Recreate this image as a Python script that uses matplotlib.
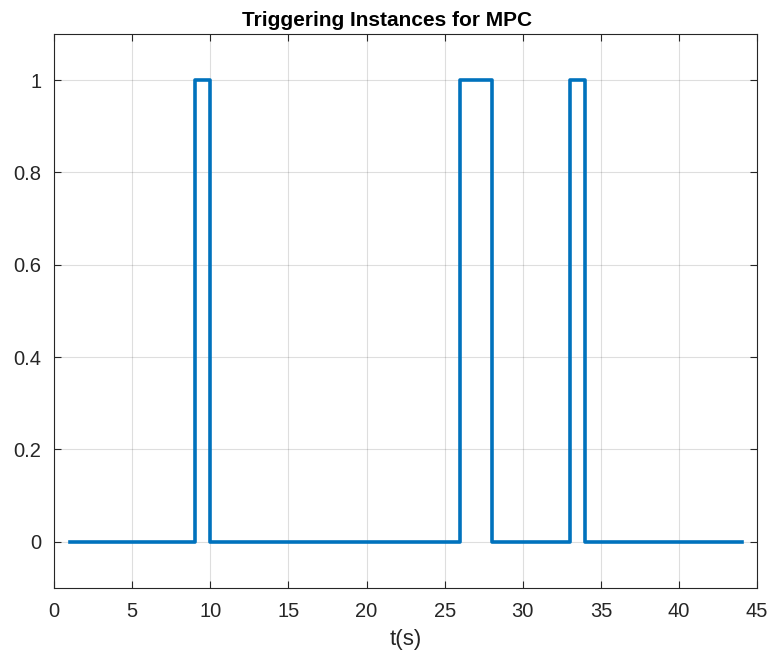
import matplotlib
matplotlib.use("Agg")
from matplotlib import pyplot as plt

# switching instants (s) and trigger state held from each instant on
t_switch = [1, 9, 10, 26, 28, 33, 34, 44]
trigger = [0, 1, 0, 1, 0, 1, 0, 0]

x_ticks = [0, 5, 10, 15, 20, 25, 30, 35, 40, 45]
y_ticks = [0, 0.2, 0.4, 0.6, 0.8, 1]
y_labels = ["0", "0.2", "0.4", "0.6", "0.8", "1"]

plt.rcParams['font.family'] = ['Liberation Sans', 'DejaVu Sans']

fig = plt.figure(figsize=(7.75, 6.61), dpi=100)
ax = fig.add_axes([0.0697, 0.1105, 0.9073, 0.8381])

ax.plot(t_switch, trigger, drawstyle='steps-post', color='#0072BD', linewidth=2.6)

ax.set_xlim(0, 45)
ax.set_ylim(-0.1, 1.1)
ax.set_xticks(x_ticks)
ax.set_yticks(y_ticks)
ax.set_yticklabels(y_labels)
ax.tick_params(direction='in', top=True, right=True, length=5, width=0.8,
               labelsize=14.5, colors='#262626')
ax.tick_params(axis='x', pad=10)
ax.tick_params(axis='y', pad=9)
ax.grid(True, color='#262626', alpha=0.15, linewidth=0.8)
for s in ax.spines.values():
    s.set_color('#262626')
    s.set_linewidth(0.8)

ax.set_xlabel("t(s)", fontsize=16, color='#262626', labelpad=6)
ax.set_title("Triggering Instances for MPC", fontsize=15, fontweight='bold',
             pad=6, x=0.473)

fig.savefig("out.png", dpi=100)
